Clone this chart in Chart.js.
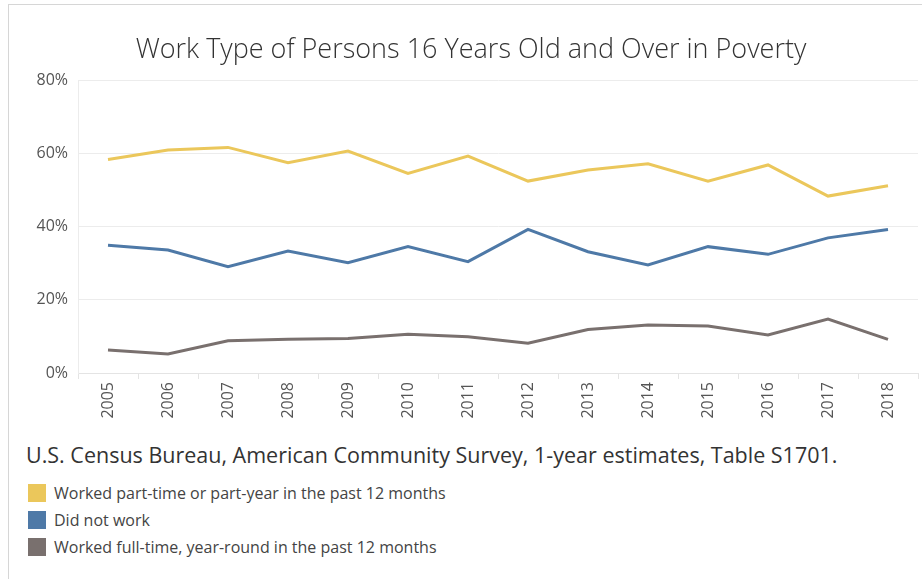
<!DOCTYPE html>
<html>
<head>
<meta charset="utf-8">
<script src="https://cdn.jsdelivr.net/npm/chart.js"></script>
<style>
    body { margin: 0; width: 922px; height: 579px; background: #fff; overflow: hidden; font-family: "Open Sans", "Noto Sans", sans-serif; position: relative; }
    .frame { position: absolute; left: 8px; top: 4px; right: -2px; bottom: -2px; border-left: 1px solid #d6d6d6; border-top: 1px solid #d6d6d6; }
    #chartBox { position: absolute; left: 0; top: 0; width: 922px; height: 430px; }
    .source { position: absolute; left: 26px; top: 440px; font-size: 21.5px; color: #333; white-space: nowrap; line-height: 30px; }
    .legend { position: absolute; left: 28px; top: 479px; }
    .legend-item { display: flex; align-items: center; height: 27px; font-size: 16px; color: #444; white-space: nowrap; }
    .legend-item span.box { width: 18px; height: 18px; margin-right: 8px; display: inline-block; }
</style>
</head>
<body>
<div class="frame"></div>
<div id="chartBox"><canvas id="lineChart"></canvas></div>
<div class="source">U.S. Census Bureau, American Community Survey, 1-year estimates, Table S1701.</div>
<div class="legend" id="legend"></div>

<script>
const years = ['2005', '2006', '2007', '2008', '2009', '2010', '2011', '2012', '2013', '2014', '2015', '2016', '2017', '2018'];
// Prozentwerte
const partTime = [58.3, 60.9, 61.6, 57.4, 60.6, 54.5, 59.2, 52.4, 55.4, 57.1, 52.4, 56.8, 48.3, 51.1];
const didNotWork = [34.9, 33.6, 29.0, 33.3, 30.1, 34.5, 30.4, 39.2, 33.1, 29.5, 34.5, 32.4, 36.9, 39.2];
const fullTime = [6.3, 5.2, 8.8, 9.2, 9.4, 10.6, 9.9, 8.1, 11.9, 13.1, 12.8, 10.4, 14.7, 9.2];
const seriesNames = ['Worked part-time or part-year in the past 12 months', 'Did not work', 'Worked full-time, year-round in the past 12 months'];
const seriesColors = ['#ebc75b', '#4e79a7', '#79706e'];
const yTicks = [0, 20, 40, 60, 80];

const fontFamily = '"Open Sans", "Noto Sans", sans-serif';

function createChart() {
    const ctx = document.getElementById('lineChart').getContext('2d');
    const seriesData = [partTime, didNotWork, fullTime];

    const datasets = seriesData.map((values, i) => ({
        label: seriesNames[i],
        data: values,
        borderColor: seriesColors[i],
        backgroundColor: seriesColors[i],
        borderWidth: 3,
        pointRadius: 0,
        tension: 0,
        fill: false
    }));

    new Chart(ctx, {
        type: 'line',
        data: { labels: years, datasets: datasets },
        options: {
            responsive: true,
            maintainAspectRatio: false,
            animation: false,
            layout: { padding: { left: 24, right: 4, top: 0, bottom: 0 } },
            plugins: {
                legend: { display: false },
                tooltip: { enabled: false },
                title: {
                    display: true,
                    text: 'Work Type of Persons 16 Years Old and Over in Poverty',
                    color: '#333',
                    font: { family: fontFamily, size: 27, weight: '300', lineHeight: 1.2 },
                    padding: { top: 34, bottom: 13.6 }
                }
            },
            scales: {
                x: {
                    offset: true,
                    grid: { offset: true, drawOnChartArea: false, drawTicks: true, tickLength: 6, color: '#e4e4e4' },
                    border: { color: '#e4e4e4' },
                    ticks: {
                        minRotation: 90,
                        maxRotation: 90,
                        autoSkip: false,
                        padding: 3,
                        color: '#555',
                        font: { family: fontFamily, size: 16 }
                    },
                    afterFit: scale => { scale.height = 57; }
                },
                y: {
                    min: 0,
                    max: 80,
                    afterBuildTicks: scale => { scale.ticks = yTicks.map(v => ({ value: v })); },
                    grid: { drawTicks: false, color: '#ececec' },
                    border: { color: '#ececec' },
                    ticks: {
                        padding: 10,
                        color: '#555',
                        font: { family: fontFamily, size: 16 },
                        callback: v => v + '%'
                    },
                    afterFit: scale => { scale.width = 54; }
                }
            }
        }
    });

    document.getElementById('legend').innerHTML = seriesNames.map((name, i) => `
        <div class="legend-item"><span class="box" style="background:${seriesColors[i]}"></span>${name}</div>
    `).join('');
}

createChart();
</script>
</body>
</html>
